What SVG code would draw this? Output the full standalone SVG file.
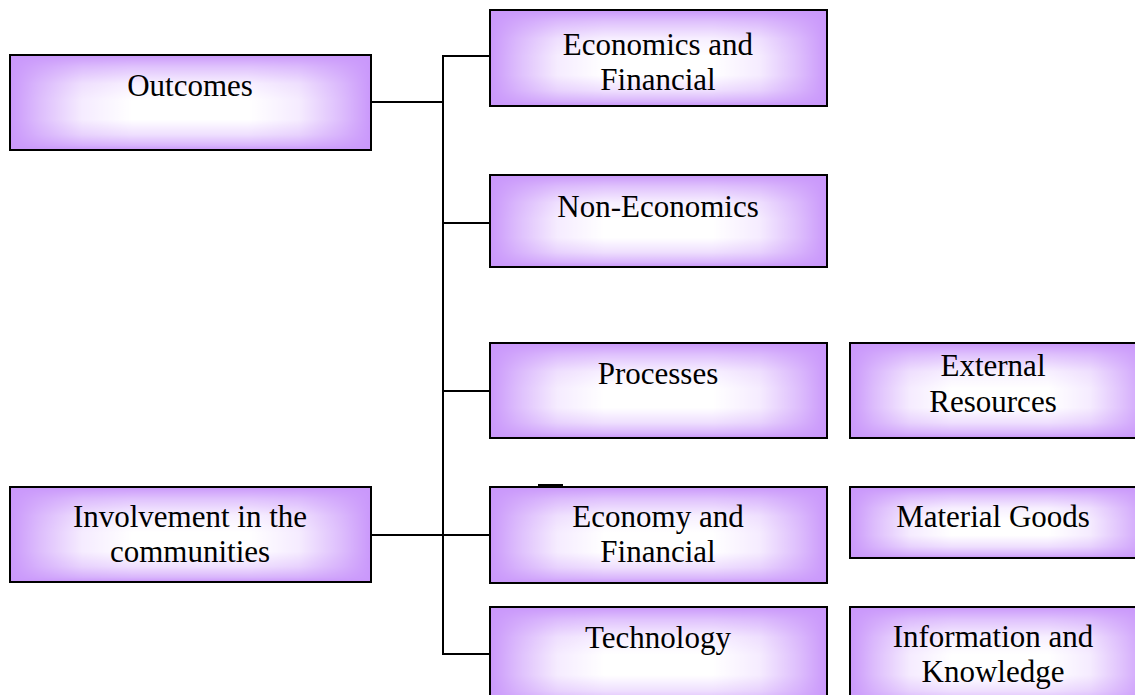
<svg xmlns="http://www.w3.org/2000/svg" width="1135" height="695" viewBox="0 0 1135 695">
<defs>
<linearGradient id="gh" x1="0" y1="0" x2="1" y2="0">
<stop offset="0" stop-color="#000"/>
<stop offset="0.08" stop-color="#5a5a5a"/>
<stop offset="0.2" stop-color="#cfcfcf"/>
<stop offset="0.34" stop-color="#fff"/>
<stop offset="0.66" stop-color="#fff"/>
<stop offset="0.8" stop-color="#cfcfcf"/>
<stop offset="0.92" stop-color="#5a5a5a"/>
<stop offset="1" stop-color="#000"/>
</linearGradient>
<linearGradient id="gv" x1="0" y1="0" x2="0" y2="1">
<stop offset="0" stop-color="#000"/>
<stop offset="0.12" stop-color="#666"/>
<stop offset="0.3" stop-color="#d8d8d8"/>
<stop offset="0.48" stop-color="#fff"/>
<stop offset="0.68" stop-color="#fff"/>
<stop offset="0.84" stop-color="#b0b0b0"/>
<stop offset="0.95" stop-color="#4a4a4a"/>
<stop offset="1" stop-color="#000"/>
</linearGradient>
<mask id="mh" maskContentUnits="objectBoundingBox"><rect width="1" height="1" fill="url(#gh)"/></mask>
<mask id="mv" maskContentUnits="objectBoundingBox"><rect width="1" height="1" fill="url(#gv)"/></mask>
<style>
.base{fill:#ca98fb}
.hl{fill:#fff}
.edge{fill:none;stroke:#000;stroke-width:2}
.t{font-family:"Liberation Serif","Times New Roman",serif;font-size:31px;fill:#000;text-anchor:middle}
.c{fill:none;stroke:#000;stroke-width:2}
</style>
</defs>
<rect width="1135" height="695" fill="#fff"/>
<g id="connectors">
<polyline class="c" points="443,55 443,654 490,654"/>
<line class="c" x1="443" y1="56" x2="490" y2="56"/>
<line class="c" x1="371" y1="102" x2="443" y2="102"/>
<line class="c" x1="443" y1="223" x2="490" y2="223"/>
<line class="c" x1="443" y1="391" x2="490" y2="391"/>
<line class="c" x1="371" y1="535" x2="490" y2="535"/>
</g>
<g id="outcomes"><rect class="base" x="10" y="55" width="361" height="95"/><g mask="url(#mh)"><rect class="hl" mask="url(#mv)" x="10" y="55" width="361" height="95"/></g><rect class="edge" x="10" y="55" width="361" height="95"/><text class="t" x="190" y="96">Outcomes</text></g>
<g id="involvement"><rect class="base" x="10" y="487" width="361" height="95"/><g mask="url(#mh)"><rect class="hl" mask="url(#mv)" x="10" y="487" width="361" height="95"/></g><rect class="edge" x="10" y="487" width="361" height="95"/><text class="t" x="190" y="527">Involvement in the</text><text class="t" x="190" y="562">communities</text></g>
<g id="economics-financial"><rect class="base" x="490" y="10" width="337" height="96"/><g mask="url(#mh)"><rect class="hl" mask="url(#mv)" x="490" y="10" width="337" height="96"/></g><rect class="edge" x="490" y="10" width="337" height="96"/><text class="t" x="658" y="55">Economics and</text><text class="t" x="658" y="90">Financial</text></g>
<g id="non-economics"><rect class="base" x="490" y="175" width="337" height="92"/><g mask="url(#mh)"><rect class="hl" mask="url(#mv)" x="490" y="175" width="337" height="92"/></g><rect class="edge" x="490" y="175" width="337" height="92"/><text class="t" x="658" y="217">Non-Economics</text></g>
<g id="processes"><rect class="base" x="490" y="343" width="337" height="95"/><g mask="url(#mh)"><rect class="hl" mask="url(#mv)" x="490" y="343" width="337" height="95"/></g><rect class="edge" x="490" y="343" width="337" height="95"/><text class="t" x="658" y="384">Processes</text></g>
<g id="economy-financial"><rect class="base" x="490" y="487" width="337" height="96"/><g mask="url(#mh)"><rect class="hl" mask="url(#mv)" x="490" y="487" width="337" height="96"/></g><rect class="edge" x="490" y="487" width="337" height="96"/><rect x="538" y="484" width="25" height="3" fill="#000"/><text class="t" x="658" y="527">Economy and</text><text class="t" x="658" y="562">Financial</text></g>
<g id="technology"><rect class="base" x="490" y="607" width="337" height="100"/><g mask="url(#mh)"><rect class="hl" mask="url(#mv)" x="490" y="607" width="337" height="100"/></g><rect class="edge" x="490" y="607" width="337" height="100"/><text class="t" x="658" y="648">Technology</text></g>
<g id="external-resources"><rect class="base" x="850" y="343" width="300" height="95"/><g mask="url(#mh)"><rect class="hl" mask="url(#mv)" x="850" y="343" width="300" height="95"/></g><rect class="edge" x="850" y="343" width="300" height="95"/><text class="t" x="993" y="376">External</text><text class="t" x="993" y="412">Resources</text></g>
<g id="material-goods"><rect class="base" x="850" y="487" width="300" height="71"/><g mask="url(#mh)"><rect class="hl" mask="url(#mv)" x="850" y="487" width="300" height="71"/></g><rect class="edge" x="850" y="487" width="300" height="71"/><text class="t" x="993" y="527">Material Goods</text></g>
<g id="information-knowledge"><rect class="base" x="850" y="607" width="300" height="100"/><g mask="url(#mh)"><rect class="hl" mask="url(#mv)" x="850" y="607" width="300" height="100"/></g><rect class="edge" x="850" y="607" width="300" height="100"/><text class="t" x="993" y="647">Information and</text><text class="t" x="993" y="682">Knowledge</text></g>
</svg>
